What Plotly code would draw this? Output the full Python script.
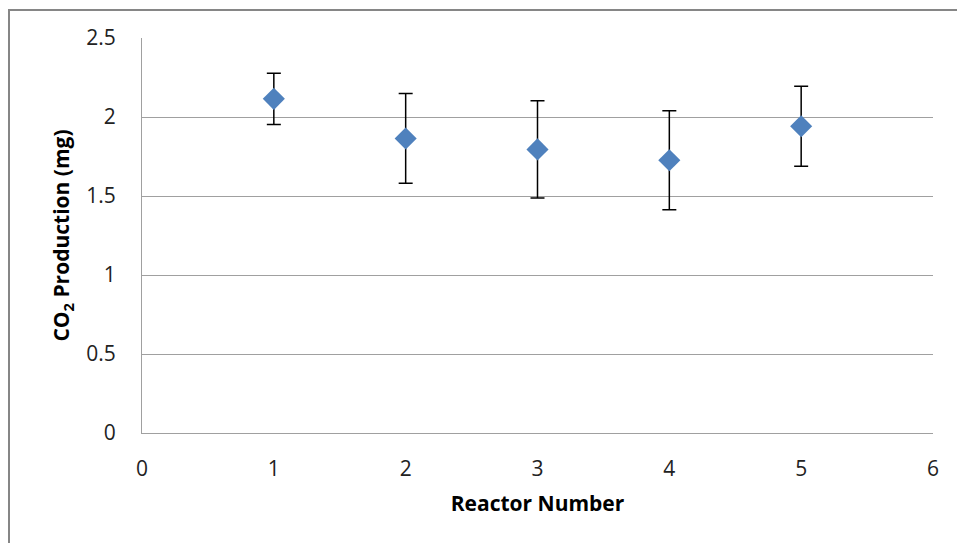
import plotly.graph_objects as go

reactor = [1, 2, 3, 4, 5]
co2_mg = [2.115, 1.864, 1.795, 1.726, 1.941]
err_mg = [0.162, 0.284, 0.308, 0.313, 0.253]

x_ticks = [0, 1, 2, 3, 4, 5, 6]
y_ticks = [0, 0.5, 1, 1.5, 2, 2.5]

fig = go.Figure()
fig.add_trace(go.Scatter(
    x=reactor, y=co2_mg, mode="markers",
    marker=dict(symbol="diamond", size=17, color="#4F81BD", line=dict(width=0)),
    error_y=dict(type="data", array=err_mg, visible=True, color="black", thickness=1.5, width=7),
    showlegend=False,
))

fig.update_layout(
    width=957, height=543,
    margin=dict(l=142, r=24, t=38, b=110),
    paper_bgcolor="white", plot_bgcolor="white",
    font=dict(family="Open Sans", color="#222222", size=21),
    xaxis=dict(range=[0, 6], tickvals=x_ticks, showgrid=False, zeroline=False,
               showline=True, linecolor="#A0A0A0", linewidth=1, ticks="",
               title=dict(text="<b>Reactor Number</b>", font=dict(size=21, color="black"), standoff=15),
               tickfont=dict(size=21), ticklabelstandoff=17),
    yaxis=dict(range=[0, 2.5], tickvals=y_ticks, showgrid=True, gridcolor="#A0A0A0", gridwidth=1,
               zeroline=False, showline=True, linecolor="#A0A0A0", linewidth=1, ticks="",
               title=dict(text="<b>CO<sub>2</sub> Production (mg)</b>", font=dict(size=21, color="black"), standoff=10),
               tickfont=dict(size=21), ticklabelstandoff=21),
)

# outer chart border
fig.add_shape(type="rect", xref="paper", yref="paper",
              x0=(9 - 142) / 791, x1=1.2, y0=-0.5, y1=(433 - 10) / 395,
              line=dict(color="#868686", width=2), fillcolor="rgba(0,0,0,0)", layer="below")

fig.write_html("out.html")
